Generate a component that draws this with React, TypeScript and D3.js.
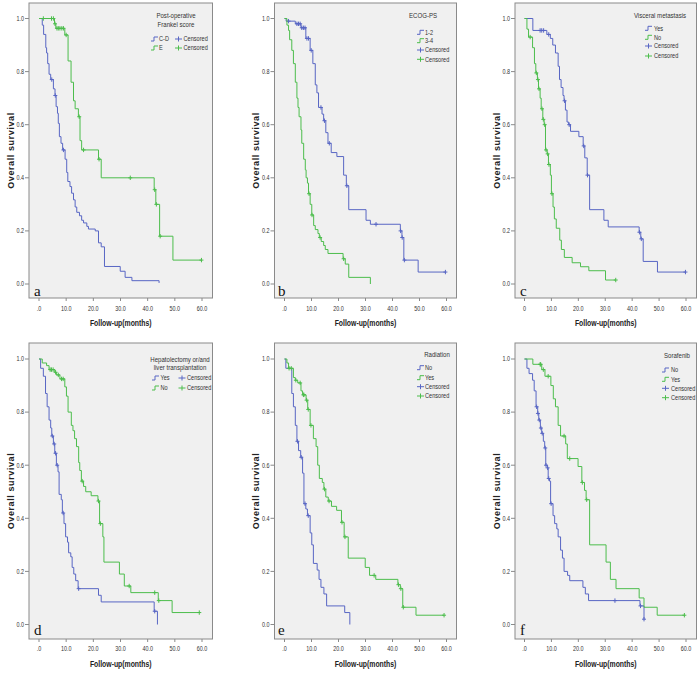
import React from "react";
import * as d3 from "d3";

type Pt = [number, number];

// ---------- axis ticks ----------
const xTickValues = [0, 10, 20, 30, 40, 50, 60];
const xTickLabels = [".0", "10.0", "20.0", "30.0", "40.0", "50.0", "60.0"];
const xTickLabelsC = ["0", "10.0", "20.0", "30.0", "40.0", "50.0", "60.0"];
const yTickValues = [0, 0.2, 0.4, 0.6, 0.8, 1.0];
const yTickLabels = ["0.0", "0.2", "0.4", "0.6", "0.8", "1.0"];
const xTitle = "Follow-up(months)";
const yTitle = "Overall survival";

// ---------- legends ----------
const aTitle = ["Post-operative", "Frankel score"];
const aGroups = ["C-D", "E"];
const bTitle = ["ECOG-PS"];
const bGroups = ["1-2", "3-4"];
const cTitle = ["Visceral metastasis"];
const cGroups = ["Yes", "No"];
const dTitle = ["Hepatolectomy or/and", "liver transplantation"];
const dGroups = ["Yes", "No"];
const eTitle = ["Radiation"];
const eGroups = ["No", "Yes"];
const fTitle = ["Sorafenib"];
const fGroups = ["No", "Yes"];
const censoredLabel = "Censored";

// ---------- panel a ----------
const aCD: Pt[] = [[0,1],[1.2,0.975],[1.7,0.94],[2.5,0.89],[2.8,0.87],[3.2,0.83],[3.7,0.79],[4.3,0.77],[5.3,0.735],[5.9,0.71],[6.3,0.668],[6.8,0.643],[7.1,0.605],[7.5,0.555],[8.1,0.53],[8.7,0.505],[9.6,0.47],[10.2,0.42],[10.6,0.386],[11.4,0.367],[12.0,0.342],[12.7,0.317],[13.3,0.29],[13.9,0.27],[14.9,0.257],[15.7,0.24],[16.4,0.23],[17.6,0.217],[18.2,0.207],[20.7,0.2],[21.9,0.155],[22.9,0.14],[24.1,0.066],[29.9,0.048],[31.7,0.025],[34.2,0.0125],[44.2,0.0125],[44.2,0.004]];
const aCDCens = [4.7, 6.0, 9.0];
const aE: Pt[] = [[0,1],[5.7,0.98],[6.2,0.963],[9.5,0.938],[10.7,0.84],[11.8,0.76],[12.7,0.69],[13.3,0.66],[14.5,0.63],[15.1,0.54],[15.7,0.505],[21.9,0.47],[22.9,0.40],[42.4,0.355],[43.0,0.30],[44.4,0.18],[49.3,0.09],[59.8,0.09]];
const aECens = [1.6, 4.6, 5.3, 5.9, 6.6, 7.1, 7.7, 8.4, 9.0, 10.0, 14.8, 16.4, 22.1, 33.6, 42.6, 43.2, 44.6, 59.8];

// ---------- panel b ----------
const b12: Pt[] = [[0,1],[0.6,0.99],[4.0,0.98],[6.1,0.965],[7.9,0.925],[9.5,0.88],[10.5,0.83],[11.4,0.75],[12.0,0.72],[12.6,0.665],[13.9,0.64],[14.5,0.615],[15.3,0.57],[16.1,0.53],[17.3,0.495],[19.4,0.48],[21.9,0.41],[22.9,0.37],[23.8,0.28],[30.2,0.24],[31.8,0.225],[42.9,0.2],[43.5,0.175],[44.2,0.09],[49.5,0.045],[59.6,0.045]];
const b12Cens = [1.5, 4.6, 5.2, 5.8, 6.4, 7.0, 7.6, 8.3, 8.9, 9.9, 13.5, 14.8, 16.6, 23.1, 33.9, 43.0, 43.6, 44.4, 59.6];
const b34: Pt[] = [[0,1],[0.9,0.975],[1.5,0.955],[1.9,0.92],[2.7,0.88],[3.3,0.83],[4.0,0.76],[4.6,0.70],[5.0,0.665],[5.4,0.63],[6.1,0.58],[6.4,0.53],[7.1,0.47],[7.7,0.43],[8.0,0.40],[8.5,0.38],[8.9,0.34],[9.5,0.30],[10.1,0.26],[10.8,0.22],[11.4,0.205],[12.4,0.19],[12.9,0.175],[13.6,0.16],[14.5,0.145],[15.1,0.13],[16.1,0.115],[21.7,0.095],[22.5,0.075],[23.8,0.025],[31.8,0.025],[31.8,0.0]];
const b34Cens = [9.1, 10.2, 13.2, 21.9];

// ---------- panel c ----------
const cYes: Pt[] = [[0,1],[3.1,0.955],[8.3,0.94],[9.6,0.925],[10.5,0.90],[11.5,0.87],[12.5,0.82],[13.0,0.77],[13.6,0.74],[14.3,0.71],[14.7,0.69],[15.2,0.655],[15.8,0.61],[16.4,0.60],[17.1,0.575],[20.2,0.555],[21.8,0.52],[22.4,0.475],[23.3,0.41],[24.2,0.28],[29.5,0.24],[31.1,0.215],[42.6,0.195],[43.2,0.17],[44.1,0.085],[49.4,0.045],[59.8,0.045]];
const cYesCens = [5.8, 6.4, 7.1, 9.0, 14.9, 16.6, 22.0, 23.4, 42.7, 43.4, 59.8];
const cNo: Pt[] = [[0,1],[0.9,0.96],[1.5,0.93],[3.0,0.89],[3.7,0.83],[4.2,0.795],[4.8,0.77],[5.2,0.735],[5.8,0.70],[6.2,0.66],[6.8,0.62],[7.3,0.60],[7.8,0.505],[8.4,0.49],[8.9,0.45],[9.6,0.41],[10.0,0.34],[10.6,0.29],[11.1,0.245],[11.8,0.21],[13.1,0.165],[13.7,0.13],[14.8,0.10],[17.7,0.08],[20.8,0.065],[23.9,0.05],[30.1,0.015],[33.9,0.015]];
const cNoCens = [2.1, 4.4, 5.0, 5.4, 6.5, 7.0, 7.5, 8.0, 8.6, 9.1, 10.2, 33.9];

// ---------- panel d ----------
const dYes: Pt[] = [[0,1],[0.6,0.965],[1.6,0.935],[2.4,0.87],[3.0,0.82],[3.7,0.77],[4.3,0.74],[4.7,0.71],[5.3,0.68],[5.8,0.645],[6.4,0.60],[7.0,0.575],[7.4,0.49],[8.2,0.47],[8.6,0.42],[9.2,0.38],[9.8,0.33],[10.5,0.31],[10.9,0.27],[11.7,0.255],[12.2,0.215],[12.8,0.19],[13.5,0.165],[14.4,0.135],[21.9,0.11],[22.9,0.085],[42.4,0.05],[43.6,0.05],[43.6,0.0]];
const dYesCens = [4.9, 5.6, 6.1, 6.7, 8.9, 14.6, 42.6];
const dNo: Pt[] = [[0,1],[1.2,0.985],[2.8,0.975],[3.7,0.96],[5.8,0.95],[6.4,0.94],[7.7,0.925],[9.5,0.895],[10.1,0.86],[10.7,0.80],[11.9,0.75],[12.5,0.73],[13.1,0.70],[13.8,0.67],[14.6,0.61],[15.0,0.58],[15.6,0.54],[16.4,0.52],[17.2,0.50],[19.2,0.485],[21.7,0.465],[22.3,0.38],[23.5,0.33],[23.9,0.235],[29.6,0.19],[31.4,0.145],[33.8,0.12],[43.9,0.09],[49.0,0.045],[59.0,0.045]];
const dNoCens = [4.1, 4.6, 5.2, 6.1, 7.1, 8.3, 8.9, 15.9, 21.9, 22.6, 33.2, 42.6, 44.1, 59.0];

// ---------- panel e ----------
const eNo: Pt[] = [[0,1],[0.5,0.965],[2.7,0.87],[3.3,0.82],[4.0,0.75],[4.6,0.69],[5.2,0.655],[6.0,0.63],[6.7,0.57],[7.2,0.455],[7.9,0.435],[8.5,0.41],[9.5,0.345],[10.1,0.30],[10.7,0.23],[12.1,0.205],[12.8,0.17],[13.5,0.14],[14.6,0.115],[15.6,0.07],[22.3,0.045],[24.2,0.045],[24.2,0.0]];
const eNoCens = [4.8, 6.2, 7.6, 8.8];
const eYes: Pt[] = [[0,1],[0.9,0.985],[1.5,0.965],[3.3,0.93],[4.0,0.92],[4.9,0.91],[6.1,0.88],[6.7,0.865],[8.0,0.845],[8.6,0.81],[9.5,0.75],[10.7,0.70],[11.7,0.67],[12.3,0.60],[12.9,0.55],[14.0,0.535],[14.6,0.51],[15.3,0.48],[16.2,0.465],[17.4,0.445],[19.3,0.43],[21.1,0.385],[22.1,0.33],[23.6,0.25],[29.9,0.215],[31.5,0.185],[33.8,0.17],[42.0,0.15],[42.9,0.135],[43.8,0.065],[48.7,0.035],[59.1,0.035]];
const eYesCens = [1.7, 2.5, 4.2, 5.8, 7.0, 7.2, 8.2, 8.8, 9.8, 14.8, 16.5, 21.3, 22.4, 33.2, 42.2, 43.1, 44.0, 59.1];

// ---------- panel f ----------
const fNo: Pt[] = [[0,1],[0.9,0.965],[1.7,0.945],[3.0,0.92],[3.6,0.88],[4.3,0.82],[4.9,0.795],[5.3,0.77],[5.9,0.74],[6.4,0.72],[7.0,0.69],[7.5,0.665],[7.9,0.60],[8.5,0.59],[8.8,0.55],[9.3,0.54],[9.7,0.455],[10.6,0.41],[11.2,0.38],[12.0,0.36],[12.5,0.33],[13.4,0.28],[14.1,0.25],[14.7,0.20],[16.0,0.185],[16.8,0.165],[21.7,0.14],[22.6,0.115],[23.8,0.09],[42.9,0.07],[44.4,0.02]];
const fNoCens = [4.5, 5.0, 5.5, 6.1, 6.6, 7.7, 8.0, 8.6, 9.0, 9.9, 33.6, 43.1, 44.4];
const fYes: Pt[] = [[0,1],[3.1,0.98],[6.4,0.96],[7.6,0.935],[9.8,0.90],[10.7,0.85],[11.5,0.82],[12.5,0.75],[13.4,0.71],[15.3,0.68],[15.9,0.625],[19.9,0.595],[21.3,0.535],[22.3,0.505],[22.9,0.47],[24.2,0.30],[30.3,0.235],[31.9,0.17],[34.0,0.135],[42.6,0.10],[44.4,0.065],[49.3,0.035],[59.4,0.035]];
const fYesCens = [5.8, 6.0, 7.0, 8.8, 14.7, 16.8, 21.5, 23.1, 59.4];

// ---------- styling ----------
const BLUE = "#5866c4";
const GREEN = "#4cbd4c";
const PLOT_BG = "#f0f0f0";
const FRAME = "#8a8a8a";
const TEXT = "#333";
const SANS = "'Liberation Sans',Arial,sans-serif";

interface Row { top: number; bottom: number; y0: number; y1: number; tickY: number; titleY: number; letterY: number; }
const topRow: Row = { top: 3, bottom: 298, y0: 284, y1: 18.5, tickY: 310.5, titleY: 326, letterY: 296 };
const botRow: Row = { top: 343, bottom: 639, y0: 624.5, y1: 359, tickY: 650.5, titleY: 667, letterY: 635 };

interface Col { left: number; right: number; x0: number; x60: number; yTitleX: number; letterX: number; }
const col1: Col = { left: 29, right: 212.5, x0: 39, x60: 202, yTitleX: 13.5, letterX: 34 };
const col2: Col = { left: 274.5, right: 456.5, x0: 284.5, x60: 446.5, yTitleX: 259, letterX: 278 };
const col3: Col = { left: 515, right: 696.5, x0: 524.5, x60: 686, yTitleX: 500, letterX: 520 };

interface Curve { data: Pt[]; cens: number[]; color: string; }
interface Legend {
  kind: "two" | "one";
  title: string[];
  groups: string[];
  titleX: number;
  titleYs: number[];
  rowYs: number[];
  iconX: number;
  textX: number;
  plusX?: number;
  censTextX?: number;
}
interface PanelCfg { letter: string; row: Row; col: Col; curves: Curve[]; legend: Legend; xLabels: string[]; }

const panels: PanelCfg[] = [
  { letter: "a", row: topRow, col: col1, xLabels: xTickLabels,
    curves: [{ data: aCD, cens: aCDCens, color: BLUE }, { data: aE, cens: aECens, color: GREEN }],
    legend: { kind: "two", title: aTitle, groups: aGroups, titleX: 176, titleYs: [17.5, 26.5], rowYs: [39, 48], iconX: 151, textX: 159, plusX: 178.5, censTextX: 183.5 } },
  { letter: "b", row: topRow, col: col2, xLabels: xTickLabels,
    curves: [{ data: b12, cens: b12Cens, color: BLUE }, { data: b34, cens: b34Cens, color: GREEN }],
    legend: { kind: "one", title: bTitle, groups: bGroups, titleX: 423, titleYs: [17.5], rowYs: [32.3, 40.7, 50, 59.3], iconX: 417, textX: 425 } },
  { letter: "c", row: topRow, col: col3, xLabels: xTickLabelsC,
    curves: [{ data: cYes, cens: cYesCens, color: BLUE }, { data: cNo, cens: cNoCens, color: GREEN }],
    legend: { kind: "one", title: cTitle, groups: cGroups, titleX: 660, titleYs: [17.5], rowYs: [28.3, 37.3, 46, 56], iconX: 645, textX: 654 } },
  { letter: "d", row: botRow, col: col1, xLabels: xTickLabels,
    curves: [{ data: dYes, cens: dYesCens, color: BLUE }, { data: dNo, cens: dNoCens, color: GREEN }],
    legend: { kind: "two", title: dTitle, groups: dGroups, titleX: 180, titleYs: [361.5, 369.5], rowYs: [378, 388], iconX: 152, textX: 160.5, plusX: 182, censTextX: 187 } },
  { letter: "e", row: botRow, col: col2, xLabels: xTickLabels,
    curves: [{ data: eNo, cens: eNoCens, color: BLUE }, { data: eYes, cens: eYesCens, color: GREEN }],
    legend: { kind: "one", title: eTitle, groups: eGroups, titleX: 437, titleYs: [357], rowYs: [367.7, 377.7, 386.7, 396], iconX: 417, textX: 425 } },
  { letter: "f", row: botRow, col: col3, xLabels: xTickLabels,
    curves: [{ data: fNo, cens: fNoCens, color: BLUE }, { data: fYes, cens: fYesCens, color: GREEN }],
    legend: { kind: "one", title: fTitle, groups: fGroups, titleX: 677, titleYs: [357.5], rowYs: [370, 379.3, 388.3, 397.7], iconX: 662, textX: 671 } },
];

function stepValue(data: Pt[], t: number): number {
  let s = data[0][1];
  for (const [ti, si] of data) {
    if (ti <= t + 1e-9) s = si;
    else break;
  }
  return s;
}

// condensed text: normal font squeezed horizontally
function NText({ x, y, size, sx = 0.8, anchor = "start", bold = false, fill = TEXT, children }:
  { x: number; y: number; size: number; sx?: number; anchor?: string; bold?: boolean; fill?: string; children: React.ReactNode }) {
  return (
    <text transform={`translate(${x},${y}) scale(${sx},1)`} textAnchor={anchor as any} fontSize={size}
      fontWeight={bold ? "bold" : "normal"} fontFamily={SANS} fill={fill}>{children}</text>
  );
}

function StepIcon({ x, y, color }: { x: number; y: number; color: string }) {
  const d = `M${x},${y + 2}H${x + 3}V${y - 2}H${x + 7}`;
  return <path d={d} fill="none" stroke={color} strokeWidth={1} />;
}
function Plus({ x, y, color, h = 2.2, w = 2.2 }: { x: number; y: number; color: string; h?: number; w?: number }) {
  return (
    <path d={`M${x - w},${y}H${x + w}M${x},${y - h}V${y + h}`} fill="none" stroke={color} strokeWidth={1} />
  );
}

function LegendView({ lg, colors }: { lg: Legend; colors: string[] }) {
  const fs = 7;
  const titleEls = lg.title.map((t, i) => (
    <NText key={"t" + i} x={lg.titleX} y={lg.titleYs[i]} size={7.6} anchor="middle">{t}</NText>
  ));
  const items: React.ReactNode[] = [];
  if (lg.kind === "two") {
    lg.groups.forEach((g, i) => {
      const y = lg.rowYs[i];
      items.push(<StepIcon key={"s" + i} x={lg.iconX} y={y} color={colors[i]} />);
      items.push(<NText key={"g" + i} x={lg.textX} y={y + 2.4} size={fs}>{g}</NText>);
      items.push(<Plus key={"p" + i} x={lg.plusX!} y={y} color={colors[i]} w={3.5} h={2.5} />);
      items.push(<NText key={"c" + i} x={lg.censTextX!} y={y + 2.4} size={fs}>{censoredLabel}</NText>);
    });
  } else {
    lg.groups.forEach((g, i) => {
      const y = lg.rowYs[i];
      items.push(<StepIcon key={"s" + i} x={lg.iconX} y={y} color={colors[i]} />);
      items.push(<NText key={"g" + i} x={lg.textX} y={y + 2.4} size={fs}>{g}</NText>);
    });
    lg.groups.forEach((_, i) => {
      const y = lg.rowYs[i + 2];
      items.push(<Plus key={"p" + i} x={lg.iconX + 3.5} y={y} color={colors[i]} w={3.5} h={2.5} />);
      items.push(<NText key={"c" + i} x={lg.textX} y={y + 2.4} size={fs}>{censoredLabel}</NText>);
    });
  }
  return <g>{titleEls}{items}</g>;
}

function Panel({ cfg }: { cfg: PanelCfg }) {
  const { row, col } = cfg;
  const x = d3.scaleLinear().domain([0, 60]).range([col.x0, col.x60]);
  const y = d3.scaleLinear().domain([0, 1]).range([row.y0, row.y1]);
  const line = d3.line<Pt>().x((d) => x(d[0])).y((d) => y(d[1])).curve(d3.curveStepAfter);
  const midY = (row.top + row.bottom) / 2;
  const midX = (col.left + col.right) / 2;
  return (
    <g>
      <rect x={col.left} y={row.top} width={col.right - col.left} height={row.bottom - row.top} fill={PLOT_BG} stroke={FRAME} strokeWidth={1} />
      {yTickValues.map((v, i) => (
        <g key={"y" + i}>
          <line x1={col.left - 4} x2={col.left} y1={y(v)} y2={y(v)} stroke={FRAME} />
          <NText x={col.left - 5} y={y(v) + 2.3} size={6.8} anchor="end">{yTickLabels[i]}</NText>
        </g>
      ))}
      {xTickValues.map((v, i) => (
        <g key={"x" + i}>
          <line x1={x(v)} x2={x(v)} y1={row.bottom} y2={row.bottom + 3} stroke={FRAME} />
          <NText x={x(v)} y={row.tickY} size={6.8} anchor="middle">{cfg.xLabels[i]}</NText>
        </g>
      ))}
      <NText x={midX} y={row.titleY} size={8.8} sx={0.78} anchor="middle" bold fill="#222">{xTitle}</NText>
      <text transform={`translate(${col.yTitleX},${midY}) rotate(-90)`} textAnchor="middle" fontSize={9} fontWeight="bold" letterSpacing={0.6} fontFamily={SANS} fill="#222">{yTitle}</text>
      {cfg.curves.map((c, i) => (
        <g key={"c" + i}>
          <path d={line(c.data) || ""} fill="none" stroke={c.color} strokeWidth={1} />
          {c.cens.map((t, j) => (
            <Plus key={j} x={x(t)} y={y(stepValue(c.data, t))} color={c.color} w={2} h={2.2} />
          ))}
        </g>
      ))}
      <LegendView lg={cfg.legend} colors={cfg.curves.map((c) => c.color)} />
      <text x={col.letterX} y={row.letterY} fontSize={15} fontFamily="'Liberation Serif','Times New Roman',serif" fill="#111">{cfg.letter}</text>
    </g>
  );
}

export default function App() {
  return (
    <svg width={700} height={675} viewBox="0 0 700 675" style={{ position: "absolute", left: 0, top: 0, background: "#fff" }}>
      <rect x={0} y={0} width={700} height={675} fill="#fff" />
      {panels.map((p) => (
        <Panel key={p.letter} cfg={p} />
      ))}
    </svg>
  );
}
